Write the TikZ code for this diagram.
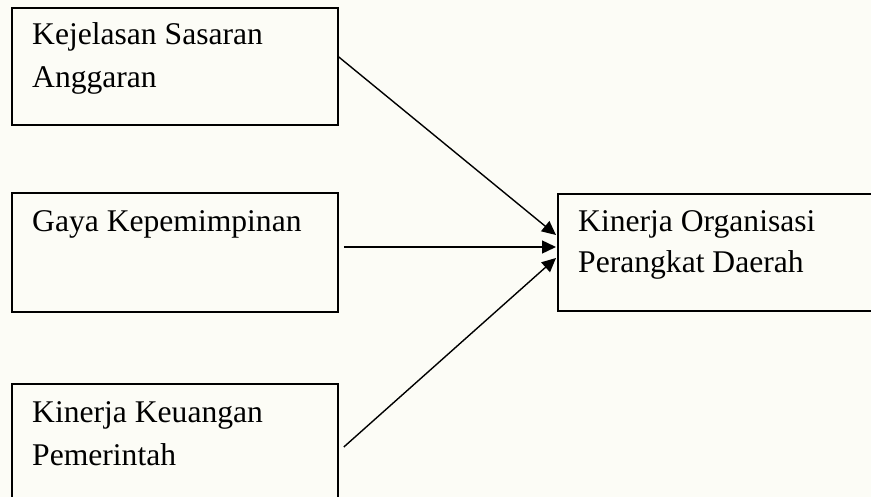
\documentclass[tikz,border=0pt]{standalone}
\usepackage{fontspec}
\setmainfont{Liberation Serif}
\usetikzlibrary{arrows.meta,calc}
\definecolor{bgcream}{RGB}{252,252,246}
\begin{document}
\begin{tikzpicture}[x=1pt,y=-1pt,
  box/.style={draw=black,line width=1.8pt,fill=none,inner sep=0pt,anchor=north west},
  txt/.style={anchor=base west,inner sep=0pt,font=\fontsize{31.6}{36}\selectfont},
  conn/.style={line width=1.4pt,-{Triangle[length=14pt,width=13pt]}}]
\useasboundingbox (0,0) rectangle (871,497);
\fill[bgcream] (0,0) rectangle (871,497);
\begin{scope}
\clip (0,0) rectangle (871,497);
\node[box,minimum width=326pt,minimum height=117pt] (b1) at (11,7) {};
\node[box,minimum width=326pt,minimum height=119pt] (b2) at (11,192) {};
\node[box,minimum width=326pt,minimum height=130pt] (b3) at (11,383) {};
\node[box,minimum width=330pt,minimum height=117pt] (b4) at (557,193) {};
\end{scope}
\node[txt] (t1a) at (32,45) {Kejelasan Sasaran};
\node[txt] (t1b) at (32,88) {Anggaran};
\node[txt] (t2a) at (32,232) {Gaya Kepemimpinan};
\node[txt] (t3a) at (32,422) {Kinerja Keuangan};
\node[txt] (t3b) at (32,465) {Pemerintah};
\node[txt] (t4a) at (578,232) {Kinerja Organisasi};
\node[txt] (t4b) at (578,273) {Perangkat Daerah};
\coordinate (s1) at ($(b1.north east)+(0,50)$);
\coordinate (s2) at ($(b2.north east)+(5,55)$);
\coordinate (s3) at ($(b3.north east)+(5,64)$);
\coordinate (e1) at ($(b4.north west)+(-1,42)$);
\coordinate (e2) at ($(b4.north west)+(-1,54)$);
\coordinate (e3) at ($(b4.north west)+(-1,65)$);
\draw[conn] (s1) -- (e1);
\draw[conn] (s2) -- (e2);
\draw[conn] (s3) -- (e3);
\end{tikzpicture}
\end{document}
